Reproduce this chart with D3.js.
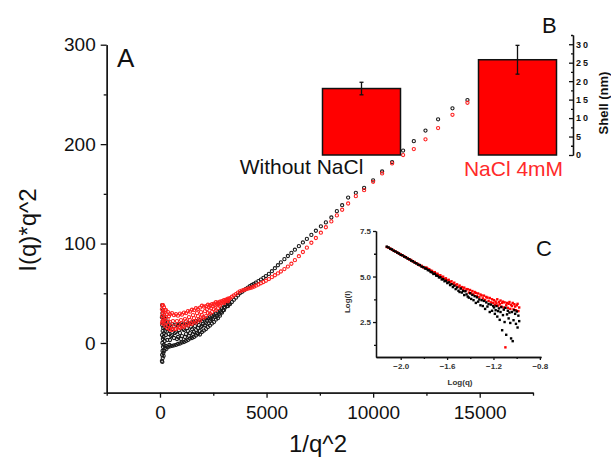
<!DOCTYPE html>
<html>
<head>
<meta charset="utf-8">
<script src="https://cdn.jsdelivr.net/npm/d3@7"></script>
<style>
body { margin: 0; background: #fff; }
svg { display: block; font-family: "Liberation Sans", Arial, sans-serif; }
</style>
</head>
<body>
<svg id="chart" width="611" height="461"></svg>
<script>
// main panel A: 1/q^2 vs I(q)*q^2
var xTicks = [0, 5000, 10000, 15000]
var xMinor = [-2500, 2500, 7500, 12500, 17500]
var yTicks = [0, 100, 200, 300]
var yMinor = [-50, 50, 150, 250]

var blackDense = [[90,-18],[90,26],[95,8],[100,-12],[100,38],[105,18],[110,-19],[110,0],[115,30],[120,-8],[125,12],[130,-15],[130,22],[135,4],[140,-4],[145,33],[150,15],[155,-10],[160,26],[165,6],[170,-13],[175,19],[180,-2],[188,10],[195,28],[200,-8],[210,16],[220,2],[230,22],[240,-5],[250,12],[260,24],[270,-3],[280,8],[290,18],[300,-6],[320,14],[340,3],[360,21],[380,-4],[400,9],[420,16],[440,-2],[469,12],[469,3],[469,18],[469,-3.5],[516,7],[563,19],[563,-3],[563,8],[610,14],[657,17],[657,-2.5],[657,5],[700,10],[750,18.5],[750,-2],[750,11],[797,4],[844,17.5],[844,-1],[844,6],[890,13],[938,19],[938,-0.5],[938,10],[985,4],[1031,18],[1031,0.5],[1031,7],[1078,14],[1125,19.5],[1125,1],[1125,13],[1172,6],[1219,18.5],[1219,2],[1219,9],[1266,15],[1313,20],[1313,3],[1313,12],[1360,7],[1406,19.5],[1406,4.5],[1406,10],[1453,16],[1500,21],[1500,5],[1500,14],[1547,9],[1594,20.5],[1594,6],[1594,11],[1641,17],[1688,22],[1688,7.5],[1688,13],[1735,10],[1782,21],[1782,9],[1782,15],[1828,18],[1875,23],[1875,12],[1875,8.5],[1922,16],[1969,22],[1969,11],[1969,17],[2016,19],[2063,23.5],[2063,12.5],[2110,18],[2157,24.5],[2157,14],[2157,20],[2204,22],[2250,25],[2250,16],[2297,20],[2344,26],[2344,17.5],[2344,22],[2391,24],[2438,27.5],[2438,19.5],[2485,24],[2532,28],[2532,21],[2578,26],[2625,29.5],[2625,23.5],[2672,27],[2719,31],[2719,25],[2766,29],[2813,32],[2813,27.5],[2860,31],[2907,35],[2907,30.5],[2954,33],[3000,36],[3000,33],[3047,35.5],[3094,38.5],[3141,37],[3188,40.5],[3188,37],[3235,39.5]]

var blackTail = [[3282,39.0],[3375,41.2],[3469,43.4],[3563,45.6],[3657,47.8],[3750,50.0],[3844,51.4],[3938,52.9],[4031,54.3],[4125,55.7],[4219,57.1],[4313,58.3],[4407,59.5],[4500,60.7],[4618,62.2],[4735,63.8],[4852,65.5],[4969,67.3],[5110,69.5],[5250,72.2],[5391,75.2],[5532,78.2],[5672,81.1],[5837,84.3],[6001,87.5],[6165,90.6],[6329,93.8],[6516,97.4],[6704,101.1],[6891,104.7],[7102,108.7],[7313,112.9],[7548,117.3],[7782,121.3],[8040,126.2],[8298,132.6],[8546,138.6],[8827,146.2],[9188,151],[9577,156],[9999,163.5],[10421,172.5],[10890,181.9],[11406,193.5],[11908,203],[12456,213.6],[13047,224.9],[13722,236],[14425,244.3]]

var redDense = [[90,34],[95,20],[100,27],[110,38],[120,22],[130,30],[141,38],[150,24],[160,32],[175,19],[188,36],[200,28],[215,23],[230,33],[250,17],[270,26],[281,33],[300,21],[320,29],[340,15],[360,24],[375,31],[400,18],[420,27],[440,14],[469,29],[469,13.5],[469,21],[516,17],[563,30],[563,13],[610,22],[657,28],[657,17],[700,14],[750,29],[750,14],[797,22],[844,27.5],[844,19],[890,16],[938,29.5],[938,15],[985,23],[1031,28.5],[1031,20],[1078,17],[1125,30.5],[1125,16],[1172,24],[1219,30],[1219,22],[1266,19],[1313,32],[1313,17.5],[1360,26],[1406,31.5],[1406,23],[1453,20],[1500,33.5],[1500,19],[1547,28],[1594,33],[1594,25],[1641,22],[1688,35],[1688,20.5],[1735,30],[1782,34],[1782,27],[1828,24],[1875,35.5],[1875,22.5],[1922,31],[1969,37.5],[1969,28],[2016,26],[2063,36.5],[2063,25.5],[2110,32],[2157,37],[2157,27],[2204,34],[2250,38.5],[2250,30],[2297,36],[2344,38],[2344,29.5],[2391,35],[2438,39],[2438,31],[2485,37],[2532,39.5],[2532,34],[2578,38],[2625,41],[2625,33],[2672,39],[2719,40.5],[2719,35],[2766,39],[2813,41.5],[2813,37.5],[2860,40],[2907,42],[2954,41],[3000,43],[3000,40],[3047,42],[3094,43.5],[3141,43],[3188,44.5],[3188,42],[3235,44]]

var redTail = [[3282,45.1],[3375,46.5],[3469,47.8],[3563,49.2],[3657,50.6],[3750,52.0],[3844,52.7],[3938,53.3],[4031,54.0],[4125,54.6],[4219,55.2],[4313,55.8],[4407,56.6],[4500,57.6],[4618,58.8],[4735,60.1],[4852,61.3],[4969,62.6],[5110,64.3],[5250,66.2],[5391,68.1],[5532,70.0],[5672,71.9],[5837,74.3],[6001,76.8],[6165,79.7],[6329,83.3],[6516,87.3],[6704,91.5],[6891,95.9],[7102,100.8],[7313,105.6],[7548,110.9],[7782,116.4],[8040,122.3],[8298,128.3],[8546,134],[8827,140.3],[9188,147.7],[9577,153.7],[9999,162.1],[10421,170.5],[10890,180.6],[11406,189],[11908,195],[12456,204.8],[13047,216.1],[13722,229.5],[14425,241.6]]

// inset B: shell thickness bars
var shellCats = ["Without NaCl", "NaCl 4mM"]
var shellVals = [18.0, 25.8]
var shellErr = [1.7, 3.9]
var shellTicks = [0, 5, 10, 15, 20, 25, 30]
var shellMinor = [2.5, 7.5, 12.5, 17.5, 22.5, 27.5, 32.5]

// inset C: log-log
var logQ = [-2.12,-2.105,-2.09,-2.075,-2.06,-2.045,-2.03,-2.015,-2.0,-1.985,-1.97,-1.955,-1.94,-1.925,-1.91,-1.895,-1.88,-1.865,-1.85,-1.835,-1.82,-1.805,-1.79,
  -1.778,-1.766,-1.754,-1.742,-1.73,-1.718,-1.706,-1.694,-1.682,-1.67,-1.658,-1.646,-1.634,-1.622,-1.61,-1.598,-1.586,-1.574,-1.562,-1.55,-1.538,-1.526,-1.514,-1.502,
  -1.492,-1.482,-1.472,-1.462,-1.452,-1.442,-1.432,-1.422,-1.412,-1.402,-1.392,-1.382,-1.372,-1.362,-1.352,-1.342,-1.332,-1.322,-1.312,-1.302,-1.292,-1.282,-1.272,-1.262,-1.252,-1.242,-1.232,-1.222,-1.212,-1.202,
  -1.195,-1.188,-1.181,-1.174,-1.167,-1.16,-1.153,-1.146,-1.139,-1.132,-1.125,-1.118,-1.111,-1.104,-1.097,-1.09,-1.083,-1.076,-1.069,-1.062,-1.055,-1.048,-1.041,-1.034,-1.027,-1.02,-1.013,-1.006,-0.999,-0.992,-0.985,-0.978]
var logIBlack = [6.64,6.60,6.52,6.49,6.41,6.38,6.31,6.27,6.19,6.17,6.09,6.06,5.98,5.95,5.87,5.84,5.76,5.73,5.65,5.63,5.54,5.52,5.44,
  5.43,5.35,5.34,5.25,5.23,5.14,5.15,5.05,5.04,4.95,4.96,4.84,4.86,4.74,4.77,4.64,4.68,4.53,4.58,4.42,4.50,4.31,4.40,4.22,
  4.15,4.34,4.12,4.21,3.98,4.19,4.02,3.90,3.84,4.08,3.77,3.99,3.70,3.92,3.55,3.86,3.62,3.74,3.42,3.70,3.38,3.66,3.22,3.58,3.35,3.49,3.05,3.46,3.12,3.38,
  3.30,2.95,3.15,3.38,2.80,3.10,3.25,2.62,3.05,3.32,2.05,2.88,3.18,2.50,3.28,1.80,2.92,3.12,2.70,3.02,2.45,1.60,3.05,1.45,2.60,3.15,2.95,2.40,3.08,2.20,2.85,2.55]
var logIRed = [6.62,6.58,6.54,6.47,6.43,6.36,6.33,6.25,6.22,6.15,6.12,6.04,6.01,5.93,5.91,5.82,5.80,5.71,5.69,5.61,5.59,5.50,5.49,
  5.49,5.42,5.40,5.32,5.31,5.23,5.24,5.15,5.15,5.05,5.07,4.97,4.99,4.87,4.90,4.79,4.82,4.69,4.74,4.60,4.66,4.52,4.57,4.43,
  4.50,4.36,4.42,4.28,4.39,4.22,4.31,4.30,4.12,4.26,4.08,4.20,4.02,4.15,4.10,3.93,4.07,3.86,4.01,3.96,3.80,3.95,3.72,3.88,3.84,3.66,3.82,3.58,3.75,3.55,
  3.70,3.45,3.62,3.52,3.75,3.40,3.60,3.48,3.68,3.35,3.55,3.62,3.30,3.58,1.11,3.42,3.55,3.28,3.50,3.60,3.22,3.45,3.38,3.55,3.20,3.48,3.35,3.15,3.42,3.50,3.10,3.30]
var insetTicksX = [-2.0, -1.6, -1.2, -0.8]
var insetMinorX = [-1.8, -1.4, -1.0]
var insetTicksY = [2.5, 5.0, 7.5]
var insetMinorY = [1.25, 3.75, 6.25]

var svg = d3.select("#chart")
var fontMain = "19px"

var x = d3.scaleLinear().domain([-2500, 17500]).range([106.7, 533])
var y = d3.scaleLinear().domain([-50, 300]).range([392.7, 44.7])

function styleAxis(g, size, weight, color) {
    g.select(".domain").attr("stroke", "#111").attr("stroke-width", 1.3)
    g.selectAll(".tick line").attr("stroke", "#111").attr("stroke-width", 1.3)
    g.selectAll(".tick text").attr("fill", color || "#111")
        .style("font-size", size).style("font-weight", weight || "normal")
        .style("font-family", "'Liberation Sans', Arial, sans-serif")
}

// minor ticks first, then major
svg.append("g").attr("transform", "translate(0,392.7)")
    .call(d3.axisBottom(x).tickValues(xMinor).tickSize(3).tickSizeOuter(0).tickFormat(""))
    .call(styleAxis, fontMain)
svg.append("g").attr("transform", "translate(0,392.7)")
    .call(d3.axisBottom(x).tickValues(xTicks).tickSize(5).tickSizeOuter(0).tickPadding(8).tickFormat(d3.format("d")))
    .call(styleAxis, fontMain)
svg.append("g").attr("transform", "translate(106.7,0)")
    .call(d3.axisLeft(y).tickValues(yMinor).tickSize(3).tickSizeOuter(0).tickFormat(""))
    .call(styleAxis, fontMain)
svg.append("g").attr("transform", "translate(106.7,0)")
    .call(d3.axisLeft(y).tickValues(yTicks).tickSize(6).tickSizeOuter(0).tickPadding(5).tickFormat(d3.format("d")))
    .call(styleAxis, fontMain)

svg.append("text").attr("x", 318).attr("y", 452)
    .attr("text-anchor", "middle").style("font-size", "24px").attr("fill", "#111")
    .text("1/q^2")
svg.append("text").attr("transform", "translate(36,230) rotate(-90)")
    .attr("text-anchor", "middle").style("font-size", "24px").attr("fill", "#111")
    .text("I(q)*q^2")

function drawPoints(pts, color) {
    svg.append("g").selectAll("circle")
        .data(pts).enter().append("circle")
        .attr("cx", function(d) { return x(d[0]) })
        .attr("cy", function(d) { return y(d[1]) })
        .attr("r", 1.6)
        .attr("fill", "none")
        .attr("stroke", color)
        .attr("stroke-width", 1.1)
}
drawPoints(blackDense.concat(blackTail), "#1a1a1a")
drawPoints(redDense.concat(redTail), "#ff2020")

svg.append("text").attr("x", 117).attr("y", 67).style("font-size", "26px").attr("fill", "#111").text("A")

// inset B
var xb = d3.scaleBand().domain(shellCats).range([283.5, 595.5]).paddingInner(0.5).paddingOuter(0.25)
var yb = d3.scaleLinear().domain([0, 32.5]).range([155, 35])

svg.append("g").selectAll("rect")
    .data(shellVals).enter().append("rect")
    .attr("x", function(d, i) { return xb(shellCats[i]) })
    .attr("y", function(d) { return yb(d) })
    .attr("width", xb.bandwidth())
    .attr("height", function(d) { return yb(0) - yb(d) })
    .attr("fill", "#ff0000")
    .attr("stroke", "#111")
    .attr("stroke-width", 1.5)

var err = svg.append("g").selectAll("g")
    .data(shellVals).enter().append("g")
    .attr("stroke", "#111").attr("stroke-width", 1.3)
err.append("line")
    .attr("x1", function(d, i) { return xb(shellCats[i]) + xb.bandwidth() / 2 })
    .attr("x2", function(d, i) { return xb(shellCats[i]) + xb.bandwidth() / 2 })
    .attr("y1", function(d, i) { return yb(d + shellErr[i]) })
    .attr("y2", function(d, i) { return yb(d - shellErr[i]) })
err.append("line")
    .attr("x1", function(d, i) { return xb(shellCats[i]) + xb.bandwidth() / 2 - 2 })
    .attr("x2", function(d, i) { return xb(shellCats[i]) + xb.bandwidth() / 2 + 2 })
    .attr("y1", function(d, i) { return yb(d + shellErr[i]) })
    .attr("y2", function(d, i) { return yb(d + shellErr[i]) })
err.append("line")
    .attr("x1", function(d, i) { return xb(shellCats[i]) + xb.bandwidth() / 2 - 2 })
    .attr("x2", function(d, i) { return xb(shellCats[i]) + xb.bandwidth() / 2 + 2 })
    .attr("y1", function(d, i) { return yb(d - shellErr[i]) })
    .attr("y2", function(d, i) { return yb(d - shellErr[i]) })

svg.append("g").attr("transform", "translate(573,0)")
    .call(d3.axisRight(yb).tickValues(shellMinor).tickSize(-2).tickSizeOuter(0).tickFormat(""))
    .call(styleAxis, "9px", "bold")
svg.append("g").attr("transform", "translate(573,0)")
    .call(d3.axisRight(yb).tickValues(shellTicks).tickSize(-4).tickSizeOuter(0).tickPadding(3).tickFormat(d3.format("d")))
    .call(styleAxis, "9px", "bold")
    .selectAll(".tick text").style("letter-spacing", "2px")

svg.append("text").attr("transform", "translate(608,103) rotate(-90)")
    .attr("text-anchor", "middle").style("font-size", "13px").style("font-weight", "bold").attr("fill", "#111")
    .text("Shell (nm)")

svg.append("text").attr("x", xb(shellCats[0]) + xb.bandwidth() / 2 - 60).attr("y", 174)
    .attr("text-anchor", "middle").style("font-size", "21px").attr("fill", "#111")
    .text(shellCats[0])
svg.append("text").attr("x", xb(shellCats[1]) + xb.bandwidth() / 2 - 4).attr("y", 176)
    .attr("text-anchor", "middle").style("font-size", "21px").attr("fill", "#ff2a2a")
    .text(shellCats[1])

svg.append("text").attr("x", 542).attr("y", 33).style("font-size", "22px").attr("fill", "#111").text("B")

// inset C
var xc = d3.scaleLinear().domain([-2.213, -0.79]).range([376, 541])
var yc = d3.scaleLinear().domain([0.58, 7.5]).range([357, 231])

svg.append("g").attr("transform", "translate(0,357)")
    .call(d3.axisBottom(xc).tickValues(insetMinorX).tickSize(2).tickSizeOuter(0).tickFormat(""))
    .call(styleAxis, "8px", "bold", "#333")
svg.append("g").attr("transform", "translate(0,357)")
    .call(d3.axisBottom(xc).tickValues(insetTicksX).tickSize(3).tickSizeOuter(0).tickPadding(3).tickFormat(d3.format(".1f")))
    .call(styleAxis, "8px", "bold", "#333")
svg.append("g").attr("transform", "translate(376,0)")
    .call(d3.axisLeft(yc).tickValues(insetMinorY).tickSize(2).tickSizeOuter(0).tickFormat(""))
    .call(styleAxis, "8px", "bold", "#333")
svg.append("g").attr("transform", "translate(376,0)")
    .call(d3.axisLeft(yc).tickValues(insetTicksY).tickSize(3).tickSizeOuter(0).tickPadding(2).tickFormat(d3.format(".1f")))
    .call(styleAxis, "8px", "bold", "#333")

svg.append("text").attr("x", 460).attr("y", 385)
    .attr("text-anchor", "middle").style("font-size", "8px").style("font-weight", "bold").attr("fill", "#333")
    .text("Log(q)")
svg.append("text").attr("transform", "translate(350,302) rotate(-90)")
    .attr("text-anchor", "middle").style("font-size", "8px").style("font-weight", "bold").attr("fill", "#333")
    .text("Log(I)")

function drawInset(vals, color) {
    svg.append("g").selectAll("rect")
        .data(vals).enter().append("rect")
        .attr("x", function(d, i) { return xc(logQ[i]) - 1.2 })
        .attr("y", function(d) { return yc(d) - 1.2 })
        .attr("width", 2.4)
        .attr("height", 2.4)
        .attr("fill", color)
}
drawInset(logIRed, "#ff0000")
drawInset(logIBlack, "#000")

svg.append("text").attr("x", 536).attr("y", 256).style("font-size", "22px").attr("fill", "#111").text("C")
</script>
</body>
</html>
